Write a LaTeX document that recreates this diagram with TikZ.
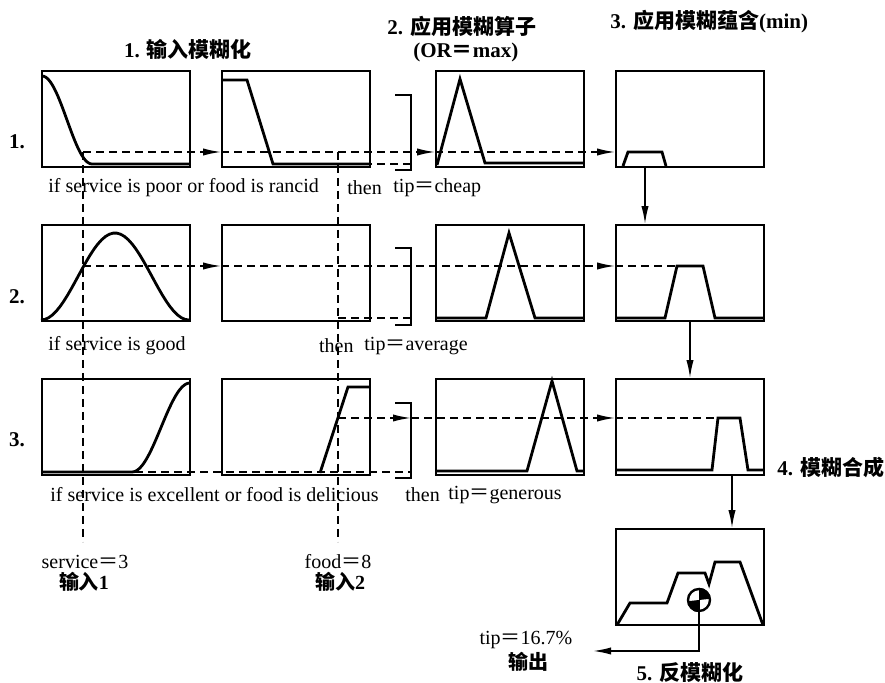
\documentclass[tikz,border=0pt]{standalone}
\usepackage{fontspec}
\setmainfont{Liberation Serif}
\newfontfamily\cjk{Noto Sans CJK SC}
\usetikzlibrary{arrows.meta}
\newcommand{\zh}[1]{{\cjk\bfseries #1}}
\newcommand{\eqs}{{\cjk ＝}}
\tikzset{
  panel/.style={draw,line width=0.8pt,minimum width=74pt,minimum height=48pt,inner sep=0pt},
  mf/.style={line width=1.4pt,line join=miter},
  guide/.style={line width=0.8pt,dash pattern=on 4pt off 2.5pt},
  brk/.style={line width=1.3pt},
  flow/.style={line width=0.8pt},
  lbl/.style={font=\fontsize{10}{12}\selectfont,inner sep=0pt},
  ttl/.style={font=\fontsize{10.5}{12}\selectfont\bfseries,inner sep=0pt},
}
\begin{document}
\begin{tikzpicture}[x=0.5pt,y=-0.5pt,>={Latex[length=9pt,width=3.6pt]}]
    \useasboundingbox (0,0) rectangle (885,683);
    % --- panels: service, food, operator, implication
    \node[panel] (svc1) at (116,119) {};
    \node[panel] (food1) at (296,119) {};
    \node[panel] (op1) at (510,119) {};
    \node[panel] (imp1) at (690,119) {};
    \node[panel] (svc2) at (116,273) {};
    \node[panel] (food2) at (296,273) {};
    \node[panel] (op2) at (510,273) {};
    \node[panel] (imp2) at (690,273) {};
    \node[panel] (svc3) at (116,427) {};
    \node[panel] (food3) at (296,427) {};
    \node[panel] (op3) at (510,427) {};
    \node[panel] (imp3) at (690,427) {};
    \node[panel] (agg) at (690,577) {};
    % --- headings
    \node[ttl] (h1) at (188,50) {1. \zh{输入模糊化}};
    \node[ttl,anchor=west] (h2) at (387,27) {2. \zh{应用模糊算子}};
    \node[ttl,anchor=west] (h2b) at (413,52) {(OR\eqs max)};
    \node[ttl,anchor=west] (h3) at (610,22) {3. \zh{应用模糊蕴含}(min)};
    \node[ttl,anchor=west] (h4) at (777,468) {4. \zh{模糊合成}};
    \node[ttl] (h5) at (690,673) {5. \zh{反模糊化}};
    \node[ttl] (r1) at (17,142) {1.};
    \node[ttl] (r2) at (17,297) {2.};
    \node[ttl] (r3) at (17,440) {3.};
    % --- rule texts
    \node[lbl,anchor=west] (if1) at (48,188) {if service is poor or food is rancid};
    \node[lbl,anchor=west] (then1) at (347,188) {then};
    \node[lbl,anchor=west] (tip1) at (393,188) {tip\eqs cheap};
    \node[lbl,anchor=west] (if2) at (48,346) {if service is good};
    \node[lbl,anchor=east] (then2) at (354,346) {then};
    \node[lbl,anchor=west] (tip2) at (364,346) {tip\eqs average};
    \node[lbl,anchor=west] (if3) at (50,495) {if service is excellent or food is delicious};
    \node[lbl,anchor=west] (then3) at (405,495) {then};
    \node[lbl,anchor=west] (tip3) at (448,495) {tip\eqs generous};
    % --- inputs and output
    \node[lbl] (in1) at (85,562) {service\eqs 3};
    \node[lbl,font=\fontsize{10}{12}\selectfont\bfseries] (in1b) at (84,582) {\zh{输入}1};
    \node[lbl] (in2) at (338,562) {food\eqs 8};
    \node[lbl,font=\fontsize{10}{12}\selectfont\bfseries] (in2b) at (340,582) {\zh{输入}2};
    \node[lbl] (out) at (526,640) {tip\eqs 16.7\%};
    \node[lbl] (outb) at (528,662) {\zh{输出}};
    \coordinate (svcend) at (83,542);
    \coordinate (foodend) at (338,542);
    \coordinate (outtip) at (593,651);
    % --- membership functions, row 1
    \draw[mf] plot[domain=42:92,samples=30] (\x,{76+88*(1-cos(180*(\x-42)/50))/2}) -- (190,164);
    \draw[mf] (222,80) -- (247,80) -- (273,164) -- (370,164);
    \draw[mf] (437,165) -- (460,79) -- (485,163) -- (584,163);
    \draw[mf] (623,166) -- (628,152) -- (662,152) -- (666,166);
    % --- row 2
    \draw[mf] plot[domain=41:189,samples=40] (\x,{320-87*(1+cos(180*(\x-115)/74))/2});
    \draw[mf] (436,318) -- (486,318) -- (509,233) -- (535,318) -- (584,318);
    \draw[mf] (616,318) -- (665,318) -- (677,266) -- (703,266) -- (715,318) -- (764,318);
    % --- row 3
    \draw[mf] (42,472) -- (132,472) -- plot[domain=132:190,samples=30] (\x,{472-89*(1-cos(180*(\x-132)/58))/2});
    \draw[mf] (320,473) -- (348,387) -- (370,387);
    \draw[mf] (436,471) -- (527,471) -- (552,381) -- (577,471) -- (584,471);
    \draw[mf] (616,470) -- (712,470) -- (718,418) -- (740,418) -- (748,470) -- (764,470);
    % --- aggregate and centroid
    \draw[mf] (617,625) -- (630,603) -- (667,603) -- (678,573) -- (705,573) -- (709,584) -- (715,562) -- (740,562) -- (763,625);
    \node[circle,draw,fill=white,line width=1.2pt,minimum size=11pt,inner sep=0pt] (cog) at (699,600) {};
    \fill (cog.center) -- (cog.north) arc[start angle=90,end angle=0,radius=5.5pt] -- cycle;
    \fill (cog.center) -- (cog.south) arc[start angle=270,end angle=180,radius=5.5pt] -- cycle;
    % --- brackets
    \foreach \t/\b in {95/170,248/325,403/478}
      {\draw[brk] (395,\t) -- (411,\t) -- (411,\b) -- (395,\b);}
    % --- guide lines from the inputs
    \draw[guide] (83,152) -- (svcend);
    \draw[guide] (338,152) -- (foodend);
    \draw[guide,->] (83,152) -- (food1.west |- 0,152);
    \draw[guide,->] (food1.west |- 0,152) -- (op1.west |- 0,152);
    \draw[guide,->] (op1.west |- 0,152) -- (imp1.west |- 0,152);
    \draw[guide] (338,164) -- (411,164);
    \draw[guide,->] (83,266) -- (food2.west |- 0,266);
    \draw[guide,->] (food2.west |- 0,266) -- (imp2.west |- 0,266);
    \draw[guide] (imp2.west |- 0,266) -- (677,266);
    \draw[guide] (338,318) -- (411,318);
    \draw[guide,->] (338,418) -- (411,418);
    \draw[guide,->] (411,418) -- (imp3.west |- 0,418);
    \draw[guide] (imp3.west |- 0,418) -- (718,418);
    \draw[guide] (83,472) -- (411,472);
    % --- flow of the implication results
    \draw[flow,->] (imp1.south -| 645,0) -- (imp2.north -| 645,0);
    \draw[flow,->] (imp2.south -| 690,0) -- (imp3.north -| 690,0);
    \draw[flow,->] (imp3.south -| 732,0) -- (agg.north -| 732,0);
    \draw[flow,->] (cog.center) |- (outtip);
  \end{tikzpicture}
\end{document}
